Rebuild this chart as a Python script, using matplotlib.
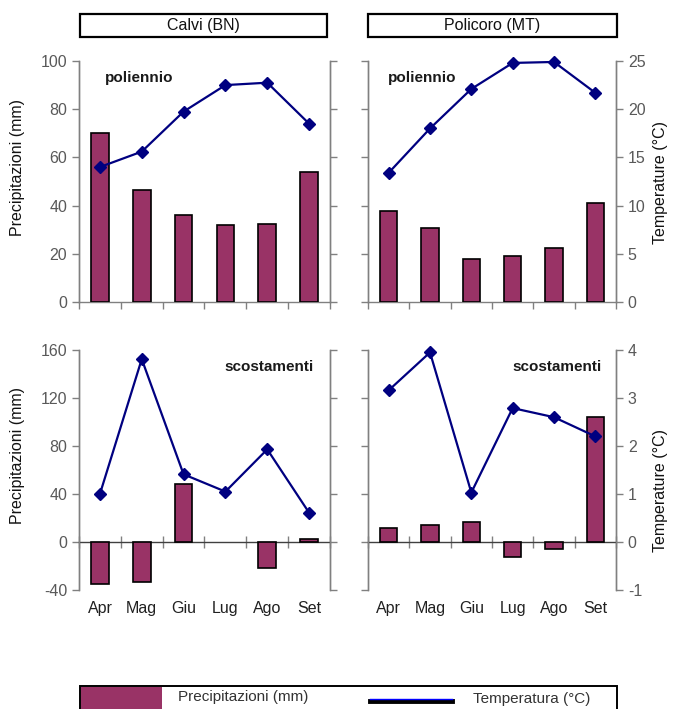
import matplotlib
matplotlib.use("Agg")
import matplotlib.pyplot as plt
from matplotlib.patches import Rectangle
from matplotlib.lines import Line2D
import numpy as np

plt.rcParams['font.family'] = ['Liberation Sans', 'DejaVu Sans']
plt.rcParams['axes.unicode_minus'] = False

months = ["Apr", "Mag", "Giu", "Lug", "Ago", "Set"]
stations = ["Calvi (BN)", "Policoro (MT)"]

# long-term means (poliennio)
calvi_rain_mean = [70, 46.5, 36, 32, 32.5, 54]
calvi_temp_mean = [14.0, 15.6, 19.75, 22.5, 22.75, 18.5]
policoro_rain_mean = [37.8, 30.6, 17.8, 18.9, 22.2, 41.1]
policoro_temp_mean = [13.4, 18.0, 22.1, 24.8, 24.9, 21.7]

# deviations (scostamenti)
calvi_rain_dev = [-34.9, -33.3, 48.5, 0, -21.6, 2.5]
calvi_temp_dev = [1.0, 3.81, 1.41, 1.05, 1.93, 0.61]
policoro_rain_dev = [11.7, 14.5, 16.4, -12.3, -5.9, 104.5]
policoro_temp_dev = [3.16, 3.95, 1.03, 2.79, 2.6, 2.2]

BAR = "#993366"
LINE = "#000080"
SPINE = "#808080"
TICKTXT = "#595959"

W, H = 673, 709
fig = plt.figure(figsize=(W / 100, H / 100), dpi=100)


def fx(px):
    return px / W


def fy(py):
    return 1 - py / H


panels = {
    (0, 0): dict(rain=calvi_rain_mean, temp=calvi_temp_mean, kind="mean"),
    (0, 1): dict(rain=policoro_rain_mean, temp=policoro_temp_mean, kind="mean"),
    (1, 0): dict(rain=calvi_rain_dev, temp=calvi_temp_dev, kind="dev"),
    (1, 1): dict(rain=policoro_rain_dev, temp=policoro_temp_dev, kind="dev"),
}

xcols = [(79, 330), (368, 616)]
yrows = [(61, 302), (350, 590)]

x = np.arange(len(months))

for (r, c), d in panels.items():
    x0, x1 = xcols[c]
    y0, y1 = yrows[r]
    ax = fig.add_axes([fx(x0), fy(y1), fx(x1 - x0), (y1 - y0) / H])
    ax2 = ax.twinx()

    rain = np.asarray(d["rain"], dtype=float)
    ax.bar(x, rain, width=0.42, color=BAR, edgecolor="black",
           linewidth=np.where(rain == 0, 0, 1.2), zorder=3)
    ax2.plot(x, d["temp"], color=LINE, lw=1.6, marker="D", markersize=6,
             markeredgecolor=LINE, markerfacecolor=LINE, zorder=4, clip_on=False)

    ax.set_xlim(-0.5, len(months) - 0.5)
    if d["kind"] == "mean":
        ax.set_ylim(0, 100)
        ax.set_yticks(np.arange(0, 101, 20))
        ax2.set_ylim(0, 25)
        ax2.set_yticks(np.arange(0, 26, 5))
    else:
        ax.set_ylim(-40, 160)
        ax.set_yticks(np.arange(-40, 161, 40))
        ax2.set_ylim(-1, 4)
        ax2.set_yticks(np.arange(-1, 5, 1))

    for a in (ax, ax2):
        a.spines["top"].set_visible(False)
        for s in ("left", "right", "bottom"):
            a.spines[s].set_color(SPINE)
            a.spines[s].set_linewidth(1.0)
        a.tick_params(axis="y", colors=SPINE, labelcolor=TICKTXT,
                      labelsize=11.5, length=5, width=1.0, direction="out")
    ax2.spines["bottom"].set_visible(False)

    # category boundaries as minor ticks
    ax.set_xticks(np.arange(-0.5, len(months), 1.0), minor=True)
    ax.set_xticks([])
    if d["kind"] == "mean":
        ax.tick_params(axis="x", which="minor", length=5, width=1.0,
                       color=SPINE, direction="out")
    else:
        ax.spines["bottom"].set_position(("data", 0))
        ax.spines["bottom"].set_color("#404040")
        ax.tick_params(axis="x", which="minor", length=8, width=1.0,
                       color=SPINE, direction="inout")
        sec = ax.secondary_xaxis("bottom")
        sec.set_xticks(x)
        sec.set_xticklabels(months)
        sec.tick_params(length=0, labelsize=11.5, labelcolor="#202020", pad=8)
        sec.spines["bottom"].set_visible(False)

    if c == 0:
        ax2.tick_params(axis="y", labelright=False)
    else:
        ax.tick_params(axis="y", labelleft=False)

    if d["kind"] == "mean":
        ax.text(0.104 if c == 0 else 0.08, 0.93, "poliennio", transform=ax.transAxes,
                fontsize=11, fontweight="bold", ha="left", va="center",
                color="#1a1a1a", zorder=6)
    else:
        ax.text(0.936 if c == 0 else 0.944, 0.93, "scostamenti", transform=ax.transAxes,
                fontsize=11, fontweight="bold", ha="right", va="center",
                color="#1a1a1a", zorder=6)

# axis titles
fig.text(fx(18), fy(167), "Precipitazioni (mm)", rotation=90, ha="center",
         va="center", fontsize=11.5, color="#111111")
fig.text(fx(18), fy(456), "Precipitazioni (mm)", rotation=90, ha="center",
         va="center", fontsize=11.5, color="#111111")
fig.text(fx(661), fy(182), "Temperature (°C)", rotation=90, ha="center",
         va="center", fontsize=11.5, color="#111111")
fig.text(fx(661), fy(490), "Temperature (°C)", rotation=90, ha="center",
         va="center", fontsize=11.5, color="#111111")

# station header boxes
for (bx0, bx1), name in zip([(80, 327), (368, 617)], stations):
    fig.patches.append(Rectangle((fx(bx0), fy(37)), fx(bx1 - bx0), 23 / H,
                                 transform=fig.transFigure, facecolor="white",
                                 edgecolor="black", linewidth=1.6))
    fig.text(fx((bx0 + bx1) / 2), fy(25.5), name, ha="center", va="center",
             fontsize=11.5, color="#111111")

# legend strip at the bottom
fig.patches.append(Rectangle((fx(80), fy(712)), fx(537), 26 / H,
                             transform=fig.transFigure, facecolor="white",
                             edgecolor="black", linewidth=1.4))
fig.patches.append(Rectangle((fx(81), fy(712)), fx(81), 25 / H,
                             transform=fig.transFigure, facecolor=BAR,
                             edgecolor="none"))
fig.text(fx(178), fy(697), "Precipitazioni (mm)", ha="left", va="center",
         fontsize=11, color="#333333")
fig.lines.append(Line2D([fx(370), fx(452)], [fy(700.5), fy(700.5)],
                        transform=fig.transFigure, color="black", lw=3.5))
fig.lines.append(Line2D([fx(370), fx(452)], [fy(698.5), fy(698.5)],
                        transform=fig.transFigure, color="#0000ff", lw=1.0))
fig.text(fx(473), fy(699), "Temperatura (°C)", ha="left", va="center",
         fontsize=11, color="#333333")

fig.savefig("out.png", dpi=100)
